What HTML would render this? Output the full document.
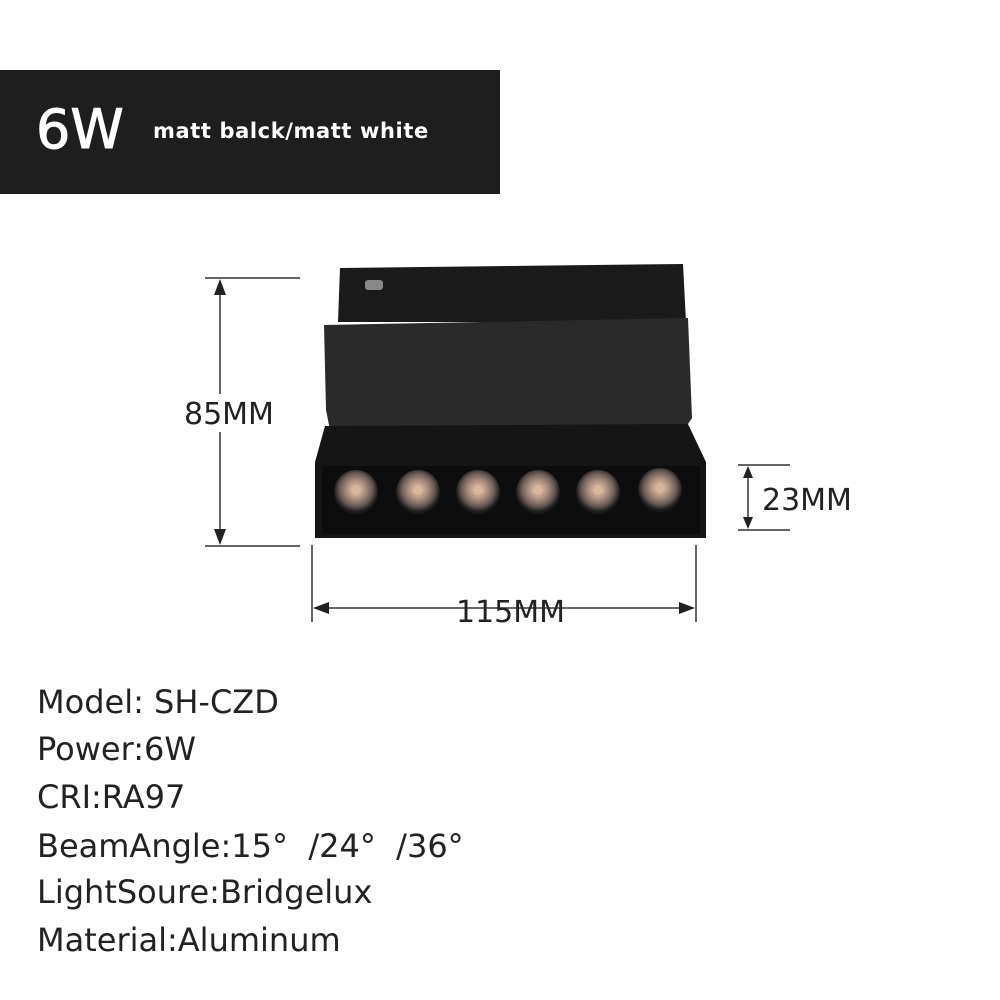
<!DOCTYPE html>
<html><head><style>
body{margin:0;background:#fff;width:1000px;height:1000px;overflow:hidden;position:relative;font-family:"DejaVu Sans","Liberation Sans",sans-serif;}
.hd{position:absolute;left:0;top:70px;width:500px;height:124px;background:#1e1e1e;color:#fff;}
.spec{position:absolute;left:37px;font-size:32px;color:#222;line-height:1;}
</style></head><body>
<div class="hd">
<div style="position:absolute;left:36px;top:28px;font-size:54px;font-weight:500;-webkit-text-stroke:1px #fff;">6W</div>
<div style="position:absolute;left:153px;top:49px;font-size:21px;font-weight:bold;letter-spacing:0.6px;">matt balck/matt white</div>
</div>
<svg width="1000" height="1000" style="position:absolute;left:0;top:0">
<defs><radialGradient id="l" cx="50%" cy="45%" r="50%"><stop offset="0" stop-color="#e6c8ae"/><stop offset="0.4" stop-color="#b09484"/><stop offset="0.75" stop-color="#6a5a54"/><stop offset="1" stop-color="#1a1a1a"/></radialGradient></defs>
<path d="M340 268 L683 264 L686 322 L338 322 Z" fill="#1a1a1a"/>
<rect x="365" y="280" width="18" height="10" rx="3" fill="#888"/>
<path d="M324 325 L688 318 L692 418 L684 430 L330 430 L326 410 Z" fill="#2a2a2a"/>
<path d="M325 426 L688 424 L706 462 L706 538 L315 538 L315 462 Z" fill="#151515"/>
<rect x="322" y="466" width="378" height="68" fill="#0d0d0d"/>
<g>
<circle cx="356" cy="492" r="22" fill="url(#l)"/><circle cx="356" cy="490" r="5" fill="#d9b59a"/>
<circle cx="418" cy="492" r="22" fill="url(#l)"/><circle cx="418" cy="490" r="5" fill="#d9b59a"/>
<circle cx="478" cy="492" r="22" fill="url(#l)"/><circle cx="478" cy="490" r="5" fill="#d9b59a"/>
<circle cx="538" cy="492" r="22" fill="url(#l)"/><circle cx="538" cy="490" r="5" fill="#d9b59a"/>
<circle cx="598" cy="492" r="22" fill="url(#l)"/><circle cx="598" cy="490" r="5" fill="#d9b59a"/>
<circle cx="660" cy="490" r="22" fill="url(#l)"/><circle cx="660" cy="488" r="5" fill="#d9b59a"/>
</g>
<g stroke="#333" stroke-width="1.5" fill="#222">
<line x1="205" y1="278" x2="300" y2="278"/><line x1="205" y1="546" x2="300" y2="546"/>
<line x1="220" y1="285" x2="220" y2="394"/><line x1="220" y1="432" x2="220" y2="540"/>
<path d="M220 279 L214 295 L226 295Z" stroke="none"/><path d="M220 545 L214 529 L226 529Z" stroke="none"/>
<line x1="738" y1="465" x2="790" y2="465"/><line x1="738" y1="530" x2="790" y2="530"/>
<line x1="748" y1="470" x2="748" y2="525"/>
<path d="M748 466 L743 478 L753 478Z" stroke="none"/><path d="M748 529 L743 517 L753 517Z" stroke="none"/>
<line x1="312" y1="545" x2="312" y2="622"/><line x1="696" y1="545" x2="696" y2="622"/>
<line x1="318" y1="608" x2="690" y2="608"/>
<path d="M313 608 L329 602 L329 614Z" stroke="none"/><path d="M695 608 L679 602 L679 614Z" stroke="none"/>
</g>
<g font-family="DejaVu Sans, Liberation Sans, sans-serif" font-size="30" fill="#222">
<rect x="180" y="394" width="108" height="36" fill="#fff"/>
<text x="184" y="424">85MM</text>
<text x="762" y="510">23MM</text>
<text x="456" y="622">115MM</text>
</g>
</svg>
<div class="spec" style="top:686px">Model: SH-CZD</div>
<div class="spec" style="top:733px">Power:6W</div>
<div class="spec" style="top:781px">CRI:RA97</div>
<div class="spec" style="top:830px">BeamAngle:15°&nbsp;&nbsp;/24°&nbsp;&nbsp;/36°</div>
<div class="spec" style="top:876px">LightSoure:Bridgelux</div>
<div class="spec" style="top:924px">Material:Aluminum</div>
</body></html>
